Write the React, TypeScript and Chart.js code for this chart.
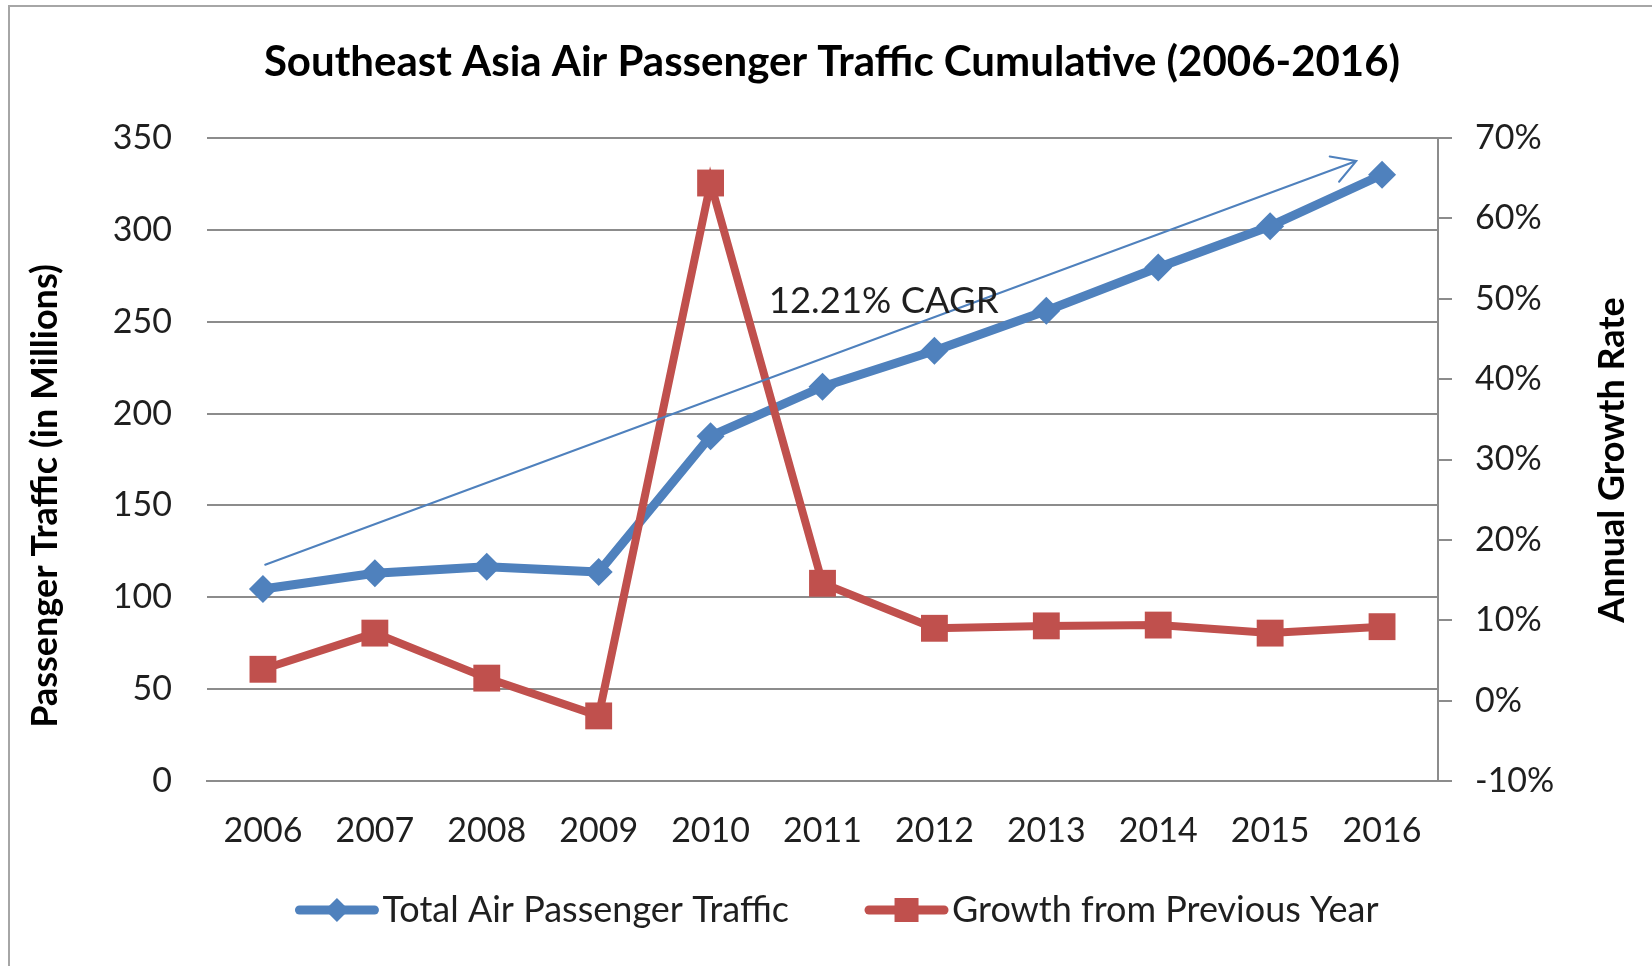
import React, { useEffect, useRef } from 'react';
import { Chart, registerables } from 'chart.js';

Chart.register(...registerables);

// ---------- data ----------
const years = ['2006', '2007', '2008', '2009', '2010', '2011', '2012', '2013', '2014', '2015', '2016'];
const totalTraffic = [104.5, 113.1, 116.6, 113.7, 187.7, 214.6, 234.2, 256.0, 279.5, 302.0, 330.0];
const growthRate = [3.9, 8.4, 2.8, -1.9, 64.4, 14.6, 9.0, 9.3, 9.4, 8.4, 9.2];
const trafficAxis = [0, 350, 50]; // min, max, step
const growthAxis = [-10, 70, 10]; // min, max, step
const trendStart = [0.02, 117.7]; // [category index, traffic]
const trendEnd = [9.77, 337.5];
const cagrText = '12.21% CAGR';
const cagrAt = [4.52, 254.8]; // [category index, traffic] (left / baseline)

const titleText = 'Southeast Asia Air Passenger Traffic Cumulative (2006-2016)';
const leftTitle = 'Passenger Traffic (in Millions)';
const rightTitle = 'Annual Growth Rate';
const seriesLabels = ['Total Air Passenger Traffic', 'Growth from Previous Year'];

const BLUE = '#4F81BD';
const RED = '#C0504D';
const GRID = '#8C8C8C';
const FONT = 'Lato, "Open Sans", sans-serif';
const TEXT = '#1f1f1f';

const overlay = {
  id: 'overlay',
  afterDatasetsDraw(chart: any) {
    const ctx = chart.ctx;
    const xs = chart.scales.x;
    const ys = chart.scales.y;
    // trend arrow
    const x1 = xs.getPixelForValue(trendStart[0]);
    const y1 = ys.getPixelForValue(trendStart[1]);
    const x2 = xs.getPixelForValue(trendEnd[0]);
    const y2 = ys.getPixelForValue(trendEnd[1]);
    ctx.save();
    ctx.strokeStyle = BLUE;
    ctx.lineWidth = 2;
    ctx.lineCap = 'round';
    ctx.beginPath();
    ctx.moveTo(x1, y1);
    ctx.lineTo(x2, y2);
    const ang = Math.atan2(y1 - y2, x1 - x2);
    const L = 27;
    const spread = Math.PI / 6;
    ctx.moveTo(x2 + L * Math.cos(ang + spread), y2 + L * Math.sin(ang + spread));
    ctx.lineTo(x2, y2);
    ctx.lineTo(x2 + L * Math.cos(ang - spread), y2 + L * Math.sin(ang - spread));
    ctx.stroke();
    // CAGR label
    ctx.fillStyle = TEXT;
    ctx.font = `36.5px ${FONT}`;
    ctx.textAlign = 'left';
    ctx.textBaseline = 'alphabetic';
    ctx.fillText(cagrText, xs.getPixelForValue(cagrAt[0]), ys.getPixelForValue(cagrAt[1]));
    ctx.restore();
  },
  afterDraw(chart: any) {
    const ctx = chart.ctx;
    const W = chart.width;
    const H = chart.height;
    ctx.save();
    // outer frame
    ctx.strokeStyle = '#A6A6A6';
    ctx.lineWidth = 2;
    ctx.beginPath();
    ctx.moveTo(9, H);
    ctx.lineTo(9, 6);
    ctx.lineTo(W, 6);
    ctx.stroke();

    // title
    ctx.fillStyle = '#000';
    ctx.font = `bold 42px ${FONT}`;
    ctx.textAlign = 'center';
    ctx.textBaseline = 'alphabetic';
    ctx.fillText(titleText, 832, 76);

    // axis titles (both read bottom-to-top)
    ctx.font = `bold 36px ${FONT}`;
    ctx.textBaseline = 'middle';
    ctx.save();
    ctx.translate(45, 496);
    ctx.rotate(-Math.PI / 2);
    ctx.fillText(leftTitle, 0, 0);
    ctx.restore();
    ctx.save();
    ctx.translate(1612, 460);
    ctx.rotate(-Math.PI / 2);
    ctx.fillText(rightTitle, 0, 0);
    ctx.restore();

    // legend
    ctx.font = `36px ${FONT}`;
    const lineLen = 83;
    const gapText = 4;
    const gapItems = 76;
    const w0 = ctx.measureText(seriesLabels[0]).width;
    const w1 = ctx.measureText(seriesLabels[1]).width;
    const total = lineLen + gapText + w0 + gapItems + lineLen + gapText + w1;
    let x = 837 - total / 2;
    const ly = 910;
    const ds = chart.data.datasets;
    for (let i = 0; i < 2; i++) {
      const color = ds[i].borderColor;
      ctx.strokeStyle = color;
      ctx.fillStyle = color;
      ctx.lineWidth = 9;
      ctx.lineCap = 'round';
      ctx.beginPath();
      ctx.moveTo(x + 4, ly);
      ctx.lineTo(x + lineLen - 4, ly);
      ctx.stroke();
      const cx = x + lineLen / 2;
      ctx.beginPath();
      if (i === 0) {
        ctx.moveTo(cx, ly - 12);
        ctx.lineTo(cx + 12, ly);
        ctx.lineTo(cx, ly + 12);
        ctx.lineTo(cx - 12, ly);
        ctx.closePath();
      } else {
        ctx.rect(cx - 12, ly - 12, 24, 24);
      }
      ctx.fill();
      ctx.fillStyle = TEXT;
      ctx.textAlign = 'left';
      ctx.textBaseline = 'alphabetic';
      ctx.fillText(seriesLabels[i], x + lineLen + gapText, 922);
      x += lineLen + gapText + (i === 0 ? w0 : w1) + gapItems;
    }
    ctx.restore();
  },
};

export default function App() {
  const ref = useRef<HTMLCanvasElement | null>(null);

  useEffect(() => {
    if (!ref.current) return;
    const tickFont = { family: FONT, size: 34 };
    const chart = new Chart(ref.current, {
      type: 'line',
      data: {
        labels: years,
        datasets: [
          {
            label: seriesLabels[0],
            data: totalTraffic,
            yAxisID: 'y',
            borderColor: BLUE,
            backgroundColor: BLUE,
            pointBackgroundColor: BLUE,
            borderWidth: 9,
            borderJoinStyle: 'round',
            pointStyle: 'rectRot',
            pointRadius: 14,
            pointBorderWidth: 0,
            tension: 0,
            order: 2,
          },
          {
            label: seriesLabels[1],
            data: growthRate,
            yAxisID: 'y1',
            borderColor: RED,
            backgroundColor: RED,
            pointBackgroundColor: RED,
            borderWidth: 8,
            borderJoinStyle: 'miter',
            pointStyle: 'rect',
            pointRadius: 19,
            pointBorderWidth: 0,
            tension: 0,
            order: 1,
          },
        ],
      },
      options: {
        responsive: false,
        animation: false,
        devicePixelRatio: 1,
        layout: { padding: { top: 138, left: 0, right: 0, bottom: 0 } },
        plugins: {
          legend: { display: false },
          title: { display: false },
          tooltip: { enabled: false },
        },
        scales: {
          x: {
            type: 'category',
            offset: true,
            grid: { display: false, drawTicks: false },
            border: { display: true, color: GRID, width: 2 },
            ticks: { font: tickFont, color: TEXT, padding: 30, maxRotation: 0, autoSkip: false },
            afterFit: (s: any) => { s.height = 185; },
          },
          y: {
            position: 'left',
            min: trafficAxis[0],
            max: trafficAxis[1],
            ticks: { stepSize: trafficAxis[2], font: tickFont, color: TEXT, padding: 35 },
            grid: { color: GRID, lineWidth: 2, drawTicks: false },
            border: { display: false },
            afterFit: (s: any) => { s.width = 207; },
          },
          y1: {
            position: 'right',
            min: growthAxis[0],
            max: growthAxis[1],
            ticks: {
              stepSize: growthAxis[2],
              font: tickFont,
              color: TEXT,
              padding: 23,
              callback: (v: any) => `${v}%`,
            },
            grid: { drawOnChartArea: false, drawTicks: true, tickLength: 14, color: GRID, lineWidth: 2 },
            border: { display: true, color: GRID, width: 2 },
            afterFit: (s: any) => { s.width = 214; },
          },
        },
      },
      plugins: [overlay],
    } as any);
    return () => chart.destroy();
  }, []);

  return (
    <div style={{ position: 'absolute', left: 0, top: 0, width: 1652, height: 966, background: '#fff' }}>
      <canvas ref={ref} width={1652} height={966} style={{ display: 'block' }} />
    </div>
  );
}
